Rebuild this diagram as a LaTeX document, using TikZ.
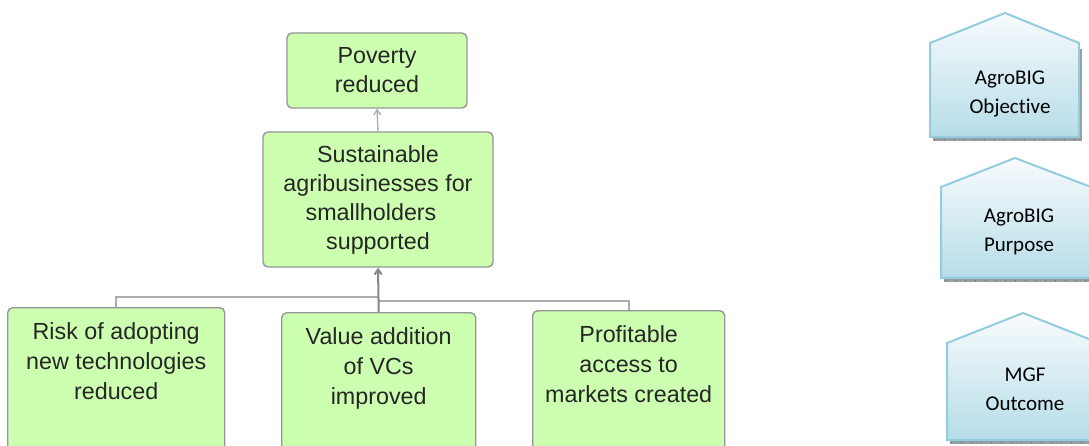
\documentclass[tikz,border=0pt]{standalone}
\usepackage{fontspec}
\setmainfont{Liberation Sans}
\newfontfamily\calfont[Ligatures=NoCommon]{Carlito}
\usetikzlibrary{arrows.meta}

\definecolor{boxgreen}{RGB}{204,255,176}
\definecolor{boxedge}{RGB}{150,150,150}
\definecolor{linkgray}{RGB}{172,172,172}
\definecolor{arrowgray}{RGB}{135,135,135}
\definecolor{hexedge}{RGB}{147,205,221}
\definecolor{hextop}{RGB}{248,251,253}
\definecolor{hexbottom}{RGB}{182,221,232}
\definecolor{shadowgray}{RGB}{150,158,162}
\definecolor{shadowtick}{RGB}{95,105,110}
\definecolor{inktext}{RGB}{38,38,38}

% three-line caption block, aligned to the top of its box
\newcommand\stackedtext[1]{\parbox[t][140pt][t]{188pt}{\centering\fontsize{23.3}{30}\selectfont #1}}

\begin{document}
\begin{tikzpicture}[x=1pt,y=-1pt,
  gbox/.style={draw=boxedge, line width=1.4pt, fill=boxgreen, rounded corners=5pt,
               text=inktext, inner sep=0pt},
  bigtext/.style={font=\fontsize{23.3}{29}\selectfont, align=center},
  lowbox/.style={gbox, anchor=north west, inner xsep=0pt, inner ysep=15pt},
  link/.style={draw=linkgray, line width=1.6pt},
  mainlink/.style={draw=arrowgray, line width=2pt, -{Straight Barb[length=5pt,width=7pt]}},
  toplink/.style={draw=linkgray, line width=1.3pt, -{Straight Barb[length=5pt,width=7pt]}},
  house/.style={draw=hexedge, line width=2pt, top color=hextop, bottom color=hexbottom},
  housetext/.style={font=\calfont\fontsize{21}{29}\selectfont, align=center, text=black},
  housesh/.style={fill=shadowgray},
  shtick/.style={draw=shadowtick, line width=0.6pt, dash pattern=on 1pt off 9pt}]

\useasboundingbox (0,0) rectangle (1089,446);
\clip (0,0) rectangle (1089,446);

% results chain
\node[gbox, bigtext, minimum width=180pt, minimum height=75pt] (pov) at (377,70.5)
  {Poverty\\reduced};
\node[gbox, bigtext, minimum width=230pt, minimum height=135pt] (sus) at (378,199.5)
  {Sustainable\\agribusinesses for\\smallholders\rule{14pt}{0pt}\\supported};

\node[lowbox, minimum width=217pt] (risk) at (7,307)
  {\stackedtext{Risk of adopting\\new technologies\\reduced}};
\node[lowbox, minimum width=194pt] (val) at (281,312)
  {\stackedtext{Value addition\\of VCs\\improved}};
\node[lowbox, minimum width=192pt] (prof) at (532,310)
  {\stackedtext{Profitable\\access to\\markets created}};

% connectors
\draw[link] (risk.north) |- ([yshift=-29pt]sus.south);
\draw[link] (prof.north) |- ([yshift=-33pt]sus.south);
\draw[mainlink] (val.north) -- (sus.south);
\draw[toplink] (sus.north) -- (pov.south);

% level markers, each with a drop shadow on its lower right
\fill[housesh] (933,49) rectangle (1082,141);
\draw[shtick] (934,139.5) -- (1082,139.5);
\path[house] (930,43) -- (1005,13) -- (1079,43) -- (1079,137) -- (930,137) -- cycle;
\node[housetext] (obj) at (1010,94) {AgroBIG\\Objective};

\fill[housesh] (944,193) rectangle (1093,282);
\draw[shtick] (945,280.5) -- (1093,280.5);
\path[house] (941,187) -- (1015,158) -- (1091,187) -- (1091,278) -- (941,278) -- cycle;
\node[housetext] (purp) at (1019,232) {AgroBIG\\Purpose};

\fill[housesh] (950,349) rectangle (1102,444);
\draw[shtick] (951,442.5) -- (1102,442.5);
\path[house] (947,343) -- (1023,313) -- (1099,343) -- (1099,440) -- (947,440) -- cycle;
\node[housetext] (outc) at (1025,389) {MGF\\Outcome};

\end{tikzpicture}
\end{document}
